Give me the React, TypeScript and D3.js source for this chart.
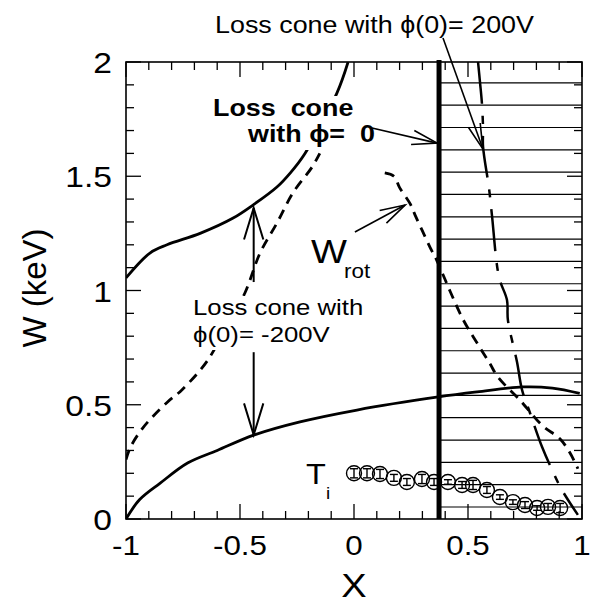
import React from 'react';
import * as d3 from 'd3';

// ---- data ----
const upperConeX = [-1, -0.895, -0.82, -0.675, -0.53, -0.443, -0.338, -0.28, -0.215, -0.075, -0.026];
const upperConeW = [1.055, 1.164, 1.2, 1.25, 1.317, 1.374, 1.453, 1.514, 1.6, 1.864, 2.0];
const lowerConeX = [-1, -0.94, -0.85, -0.73, -0.6, -0.44, -0.237, 0.013, 0.37, 0.54, 0.74, 0.87, 0.99];
const lowerConeW = [0, 0.085, 0.157, 0.245, 0.3, 0.367, 0.425, 0.477, 0.534, 0.556, 0.578, 0.573, 0.55];
const wrotLeftX = [-1, -0.98, -0.925, -0.82, -0.755, -0.645, -0.544, -0.478, -0.412, -0.338, -0.268, -0.184, -0.15];
const wrotLeftW = [0.26, 0.315, 0.4, 0.51, 0.565, 0.69, 0.87, 0.99, 1.164, 1.295, 1.427, 1.54, 1.6];
const wrotRightX = [0.135, 0.175, 0.2, 0.246, 0.268, 0.298, 0.333, 0.364, 0.42, 0.48, 0.54, 0.596, 0.632, 0.728, 0.825, 0.904, 0.947, 0.982];
const wrotRightW = [1.515, 1.5, 1.45, 1.38, 1.33, 1.265, 1.19, 1.13, 1.0, 0.87, 0.77, 0.68, 0.62, 0.52, 0.41, 0.35, 0.29, 0.22];
const cone200X = [0.544, 0.553, 0.561, 0.566, 0.566, 0.592, 0.605, 0.636, 0.671, 0.675, 0.715, 0.737, 0.772, 0.825, 0.873, 0.912, 0.982];
const cone200W = [2.0, 1.908, 1.82, 1.71, 1.63, 1.449, 1.33, 1.059, 0.958, 0.871, 0.687, 0.565, 0.464, 0.315, 0.206, 0.127, 0.018];
const tiX = [0, 0.057, 0.114, 0.175, 0.232, 0.298, 0.351, 0.412, 0.474, 0.522, 0.583, 0.64, 0.697, 0.75, 0.803, 0.851, 0.904];
const tiW = [0.2, 0.2, 0.197, 0.18, 0.162, 0.175, 0.162, 0.162, 0.149, 0.149, 0.127, 0.096, 0.074, 0.061, 0.048, 0.053, 0.048];
const tiErr = [0.02, 0.02, 0.02, 0.015, 0.015, 0.02, 0.015, 0.01, 0.015, 0.02, 0.015, 0.01, 0.01, 0.015, 0.01, 0.015, 0.02];
const phiZeroBoundaryX = 0.373;
const xTickLabels = ['-1', '-0.5', '0', '0.5', '1'];
const xTickValues = [-1, -0.5, 0, 0.5, 1];
const yTickLabels = ['0', '0.5', '1', '1.5', '2'];
const yTickValues = [0, 0.5, 1, 1.5, 2];

const W = 593, H = 613;
const L = 126, R = 582, T = 62, B = 519;
const x = d3.scaleLinear().domain([-1, 1]).range([L, R]);
const y = d3.scaleLinear().domain([0, 2]).range([B, T]);

const FONT = '"Liberation Sans", Arial, Helvetica, sans-serif';
const SX = 1.12;

function pts(xs: number[], ys: number[]): [number, number][] {
  return xs.map((v, i) => [v, ys[i]]);
}
const line = d3.line<[number, number]>().x(d => x(d[0])).y(d => y(d[1])).curve(d3.curveCatmullRom.alpha(0.5));

function head(tip: [number, number], from: [number, number], len: number, ang: number) {
  const dx = tip[0] - from[0], dy = tip[1] - from[1];
  const a = Math.atan2(dy, dx);
  const r = (ang * Math.PI) / 180;
  const b1 = [tip[0] - len * Math.cos(a - r), tip[1] - len * Math.sin(a - r)];
  const b2 = [tip[0] - len * Math.cos(a + r), tip[1] - len * Math.sin(a + r)];
  return `M${b1[0]},${b1[1]}L${tip[0]},${tip[1]}L${b2[0]},${b2[1]}`;
}

function Arrow({ from, to, len = 24, ang = 17, sw = 1.6 }: { from: [number, number]; to: [number, number]; len?: number; ang?: number; sw?: number }) {
  return (
    <g stroke="#000" strokeWidth={sw} fill="none">
      <line x1={from[0]} y1={from[1]} x2={to[0]} y2={to[1]} />
      <path d={head(to, from, len, ang)} />
    </g>
  );
}

function Txt({ x: tx, y: ty, size, children, anchor = 'start', weight = 'normal', sx = SX }: any) {
  return (
    <text transform={`translate(${tx},${ty}) scale(${sx},1)`} fontSize={size} fontFamily={FONT}
      fontWeight={weight} textAnchor={anchor} style={{ whiteSpace: 'pre' }} fill="#000">
      {children}
    </text>
  );
}

export default function App() {
  const minorX = d3.range(-1, 1.0001, 0.1);
  const minorY = d3.range(0, 2.0001, 0.1);
  const isMajor = (v: number) => Math.abs(v * 2 - Math.round(v * 2)) < 1e-6;
  const hatch = d3.range(0, 20).map(i => 0.0525 + i * 0.0977);
  const ax = x(-0.44);
  return (
    <svg width={W} height={H} style={{ position: 'absolute', left: 0, top: 0, background: '#fff' }}>
      <defs>
        <clipPath id="plot"><rect x={L} y={T} width={R - L} height={B - T} /></clipPath>
      </defs>
      {/* hatch */}
      <g stroke="#000" strokeWidth={1.2}>
        {hatch.map((h, i) => <line key={i} x1={x(phiZeroBoundaryX)} x2={R} y1={y(h)} y2={y(h)} />)}
      </g>
      {/* ticks */}
      <g stroke="#000" strokeWidth={1.3}>
        {minorX.map((v, i) => {
          const len = isMajor(v) ? 15 : 8;
          return (
            <g key={i}>
              <line x1={x(v)} x2={x(v)} y1={B} y2={B - len} />
              <line x1={x(v)} x2={x(v)} y1={T} y2={T + len} />
            </g>
          );
        })}
        {minorY.map((v, i) => {
          const len = isMajor(v) ? 15 : 8;
          return (
            <g key={i}>
              <line x1={L} x2={L + len} y1={y(v)} y2={y(v)} />
              <line x1={R} x2={R - len} y1={y(v)} y2={y(v)} />
            </g>
          );
        })}
      </g>
      <g clipPath="url(#plot)" fill="none" stroke="#000">
        <path d={line(pts(upperConeX, upperConeW)) || ''} strokeWidth={2.8} />
        <path d={line(pts(lowerConeX, lowerConeW)) || ''} strokeWidth={2.8} />
        <path d={line(pts(wrotLeftX, wrotLeftW)) || ''} strokeWidth={2.8} strokeDasharray="10,7" />
        <path d={line(pts(wrotRightX, wrotRightW)) || ''} strokeWidth={2.8} strokeDasharray="10,7" />
        <path d={line(pts(cone200X, cone200W)) || ''} strokeWidth={2.5} strokeDasharray="42,12,8,12" />
      </g>
      {/* phi=0 loss cone boundary */}
      <line x1={x(phiZeroBoundaryX)} x2={x(phiZeroBoundaryX)} y1={T - 2} y2={B} stroke="#000" strokeWidth={5} />
      {/* Ti points */}
      <g stroke="#000" fill="none" strokeWidth={1.4}>
        {tiX.map((v, i) => {
          const cx = x(v), cy = y(tiW[i]);
          const y1 = y(tiW[i] + tiErr[i]), y2 = y(tiW[i] - tiErr[i]);
          return (
            <g key={i}>
              <circle cx={cx} cy={cy} r={7.5} />
              <line x1={cx} x2={cx} y1={y1} y2={y2} />
              <line x1={cx - 4} x2={cx + 4} y1={y1} y2={y1} />
              <line x1={cx - 4} x2={cx + 4} y1={y2} y2={y2} />
            </g>
          );
        })}
      </g>
      {/* frame */}
      <rect x={L} y={T} width={R - L} height={B - T} fill="none" stroke="#000" strokeWidth={1.6} />

      {/* label masks */}
      <rect x={208} y={96} width={168} height={54} fill="#fff" />
      <rect x={190} y={296} width={182} height={54} fill="#fff" />

      {/* arrows */}
      <Arrow from={[ax, y(1.037)]} to={[ax, y(1.361)]} len={33} ang={17} sw={2} />
      <Arrow from={[ax, y(0.73)]} to={[ax, y(0.368)]} len={33} ang={17} sw={2} />
      <Arrow from={[372, 128]} to={[x(phiZeroBoundaryX) - 2, y(1.645)]} len={26} ang={16} />
      <Arrow from={[443, 38]} to={[x(0.565), y(1.62)]} len={26} ang={14} />
      <Arrow from={[x(0.004), y(1.256)]} to={[x(0.224), y(1.374)]} len={26} ang={16} />

      {/* texts */}
      <Txt x={215} y={33} size={24}>Loss cone with ϕ(0)= 200V</Txt>
      <Txt x={213} y={116} size={24} weight="bold">Loss  cone</Txt>
      <Txt x={248} y={142} size={24} weight="bold">with ϕ=  0</Txt>
      <Txt x={193} y={315} size={23}>Loss cone with</Txt>
      <Txt x={193} y={342} size={23}>ϕ(0)= -200V</Txt>
      <Txt x={311} y={263} size={34}>W</Txt>
      <Txt x={344} y={278} size={20}>rot</Txt>
      <Txt x={306} y={484} size={29}>T</Txt>
      <Txt x={326} y={499} size={17}>i</Txt>

      {yTickValues.map((v, i) => (
        <Txt key={i} x={112} y={y(v) + 11} size={30} anchor="end">{yTickLabels[i]}</Txt>
      ))}
      {xTickValues.map((v, i) => (
        <Txt key={i} x={x(v)} y={555} size={28} anchor="middle">{xTickLabels[i]}</Txt>
      ))}
      <Txt x={(L + R) / 2} y={597} size={34} anchor="middle">X</Txt>
      <text transform="translate(46,288) rotate(-90)" fontSize={33} fontFamily={FONT} textAnchor="middle">W (keV)</text>
    </svg>
  );
}
